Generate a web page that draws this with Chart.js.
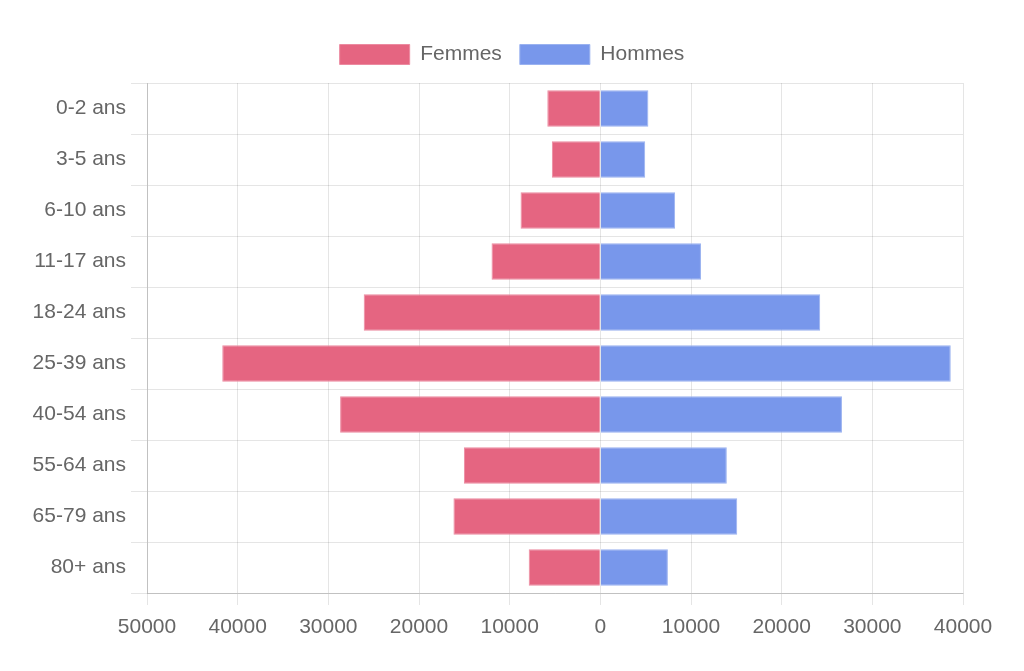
<!DOCTYPE html>
<html>
<head>
<meta charset="utf-8">
<script src="https://cdn.jsdelivr.net/npm/chart.js@4/dist/chart.umd.min.js"></script>
<style>
html,body{margin:0;padding:0;background:#fff;}
#wrap{width:1024px;height:671px;position:relative;}
</style>
</head>
<body>
<div id="wrap"><canvas id="c" width="1024" height="671"></canvas></div>
<script>
const categories = ["0-2 ans","3-5 ans","6-10 ans","11-17 ans","18-24 ans","25-39 ans","40-54 ans","55-64 ans","65-79 ans","80+ ans"];
const femmes = [5850, 5350, 8800, 12000, 26100, 41700, 28700, 15050, 16200, 7900];
const hommes = [5300, 4950, 8250, 11100, 24250, 38650, 26650, 13950, 15100, 7450];
const xMin = -50000;
const xMax = 40000;
const xStep = 10000;

const legendSpacing = {
  id: 'legendSpacing',
  beforeInit(chart) {
    const orig = chart.legend.fit;
    chart.legend.fit = function () {
      orig.call(this);
      this.height += 8;
    };
  },
  afterLayout(chart) {
    const lg = chart.legend;
    lg.left = 0;
    lg.right = chart.width;
    lg.width = chart.width;
  }
};

Chart.defaults.font.family = "'Liberation Sans', Arial, sans-serif";
Chart.defaults.font.size = 21;
Chart.defaults.color = '#666';

new Chart(document.getElementById('c'), {
  type: 'bar',
  data: {
    labels: categories,
    datasets: [
      { label: 'Femmes', data: femmes.map(v => -v), backgroundColor: '#e56581', borderColor: '#ec8aa0', borderWidth: 1 },
      { label: 'Hommes', data: hommes, backgroundColor: '#7897eb', borderColor: '#9ab2f0', borderWidth: 1 }
    ]
  },
  plugins: [legendSpacing],
  options: {
    indexAxis: 'y',
    responsive: false,
    animation: false,
    layout: { padding: { top: 26, right: 61, left: 0, bottom: 0 } },
    plugins: {
      legend: {
        labels: { boxWidth: 70, boxHeight: 20, padding: 18, font: { size: 21 } }
      },
      tooltip: { enabled: false }
    },
    scales: {
      x: {
        stacked: true,
        min: xMin,
        max: xMax,
        ticks: { stepSize: xStep, padding: 10, callback: v => Math.abs(v), maxRotation: 0 },
        grid: { color: 'rgba(0,0,0,0.1)', tickLength: 12 },
        border: { color: 'rgba(0,0,0,0.16)' },
        afterFit(s) { s.height = 78; }
      },
      y: {
        stacked: true,
        ticks: { padding: 5 },
        grid: { color: 'rgba(0,0,0,0.1)', tickLength: 16 },
        border: { color: 'rgba(0,0,0,0.16)' },
        afterFit(s) { s.width = 147; }
      }
    }
  }
});
</script>
</body>
</html>
